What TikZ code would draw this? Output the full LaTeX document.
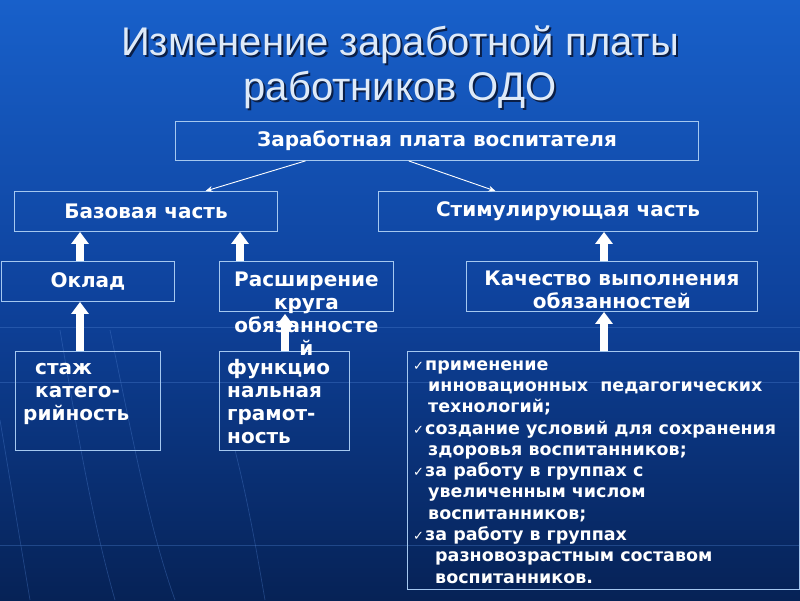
\documentclass[tikz,border=0pt]{standalone}
\usepackage{fontspec}
\setmainfont{DejaVu Sans}
\newfontfamily\titlefont{Liberation Sans}
\usetikzlibrary{arrows.meta,calc}

\definecolor{bgtop}{RGB}{24,96,202}
\definecolor{bgmid}{RGB}{14,66,156}
\definecolor{bgbot}{RGB}{6,34,86}
\definecolor{frame}{RGB}{165,200,240}
\definecolor{titlecol}{RGB}{222,234,248}
\definecolor{shadowcol}{RGB}{10,30,70}
\definecolor{bgline}{RGB}{80,130,210}

\tikzset{
  box/.style={draw=frame, line width=0.9pt, anchor=north west, inner sep=0pt},
  txt/.style={text=white, font=\bfseries\fontsize{20}{23}\selectfont, align=center},
  listtxt/.style={text=white, font=\bfseries\fontsize{17.5}{21.3}\selectfont, align=left, inner sep=0pt},
  up/.style={draw=white, line width=7.5pt, -{Triangle[width=17pt,length=12pt]}},
  thinarr/.style={draw=white, line width=0.9pt, -{Stealth[length=7pt,width=6pt]}},
  deco/.style={draw=bgline, line width=0.7pt, opacity=0.35},
}
\newcommand{\chk}{\makebox[12pt][l]{\mdseries\fontsize{13}{13}\selectfont ✓}}
\newcommand{\shtext}[1]{\makebox[0pt][l]{\hspace{2pt}\raisebox{-2pt}{\textcolor{shadowcol}{#1}}}#1}

\begin{document}
\begin{tikzpicture}[x=1pt, y=-1pt]
    \useasboundingbox (0,0) rectangle (800,600);
    \fill[top color=bgtop, bottom color=bgbot, middle color=bgmid] (0,0) rectangle (800,600);

    % faint background lines
    \draw[deco] (0,327) -- (800,327);
    \draw[deco] (0,382) -- (800,382);
    \draw[deco] (0,545) -- (800,545);
    \draw[deco] (60,330) .. controls (80,450) and (95,530) .. (115,600);
    \draw[deco] (110,330) .. controls (135,450) and (150,530) .. (175,600);
    \draw[deco] (235,450) .. controls (250,510) and (258,560) .. (265,600);
    \draw[deco] (0,420) .. controls (10,480) and (20,540) .. (30,600);

    % title
    \node[font=\titlefont\fontsize{40}{45}\selectfont, text=titlecol, align=center] (title) at (400,68)
        {\shtext{Изменение заработной платы}\\\shtext{работников ОДО}};

    % boxes
    \node[box, txt, minimum width=523pt, minimum height=39pt] (zp) at (175,121) {Заработная плата воспитателя};
    \node[box, txt, minimum width=263pt, minimum height=40pt] (baz) at (14,191) {Базовая часть};
    \node[box, txt, minimum width=379pt, minimum height=40pt] (stim) at (378,191) {Стимулирующая часть};
    \node[box, txt, minimum width=173pt, minimum height=40pt] (okl) at (1,261) {Оклад};
    \node[box, minimum width=174pt, minimum height=50pt] (ras) at (219,261) {};
    \node[box, minimum width=291pt, minimum height=50pt] (kach) at (466,261) {};
    \node[box, minimum width=145pt, minimum height=99pt] (stazh) at (15,351) {};
    \node[box, minimum width=130pt, minimum height=99pt] (func) at (219,351) {};
    \node[box, minimum width=392pt, minimum height=238pt] (list) at (407,351) {};

    % texts of the lower boxes
    \node[txt, anchor=north, inner sep=0pt] (rast) at ($(ras.north)+(0,9)$)
        {\strut Расширение\\круга\\обязанносте\\й};
    \node[txt, anchor=north, inner sep=0pt] (kacht) at ($(kach.north)+(0,8)$)
        {\strut Качество выполнения\\обязанностей};
    \node[txt, align=left, anchor=north west, inner sep=0pt] (stazht) at ($(stazh.north west)+(8,7)$)
        {\strut\hspace*{12pt}стаж\\\hspace*{12pt}катего-\\рийность};
    \node[txt, align=left, anchor=north west, inner sep=0pt] (funct) at ($(func.north west)+(8,7)$)
        {\strut функцио\\нальная\\грамот-\\ность};
    \node[listtxt, anchor=north west] (listt) at ($(list.north west)+(6,4)$)
        {\strut\chk применение\\
         \hspace*{15pt}инновационных\ \ педагогических\\
         \hspace*{15pt}технологий;\\
         \chk создание условий для сохранения\\
         \hspace*{15pt}здоровья воспитанников;\\
         \chk за работу в группах с\\
         \hspace*{15pt}увеличенным числом\\
         \hspace*{15pt}воспитанников;\\
         \chk за работу в группах\\
         \hspace*{22pt}разновозрастным составом\\
         \hspace*{22pt}воспитанников.};

    % arrow columns
    \coordinate (ca) at (80,0);
    \coordinate (cb) at (240,0);
    \coordinate (cc) at (285,0);
    \coordinate (cd) at (604,0);

    \draw[thinarr] ($(zp.south west)!0.249!(zp.south east)$) -- ($(baz.north west)!0.726!(baz.north east)$);
    \draw[thinarr] ($(zp.south west)!0.446!(zp.south east)$) -- ($(stim.north west)!0.309!(stim.north east)$);

    \draw[up] (okl.north -| ca) -- (baz.south -| ca);
    \draw[up] (ras.north -| cb) -- (baz.south -| cb);
    \draw[up] (kach.north -| cd) -- (stim.south -| cd);
    \draw[up] (stazh.north -| ca) -- (okl.south -| ca);
    \draw[up] (func.north -| cc) -- ($(ras.south -| cc)+(0,2)$);
    \draw[up] (list.north -| cd) -- (kach.south -| cd);
\end{tikzpicture}
\end{document}
